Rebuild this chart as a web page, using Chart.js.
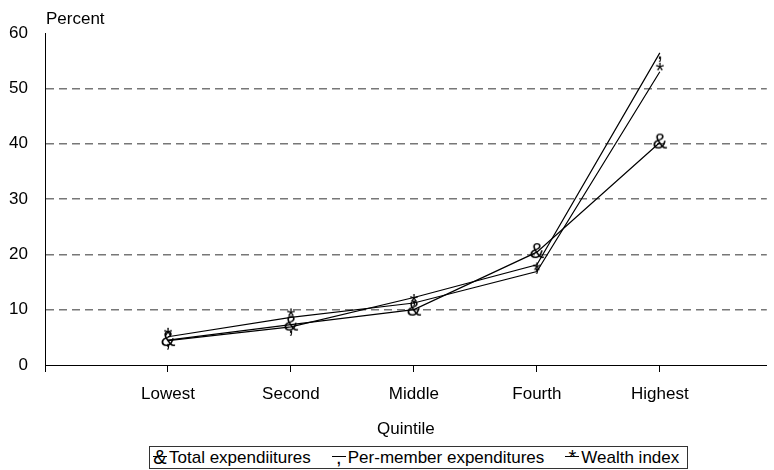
<!DOCTYPE html>
<html>
<head>
<meta charset="utf-8">
<script src="https://cdn.jsdelivr.net/npm/chart.js@4.4.1/dist/chart.umd.min.js"></script>
<style>
  body { margin: 0; background: #fff; overflow: hidden; }
  #wrap { position: relative; width: 774px; height: 470px; }
  #chart { position: absolute; left: 0; top: 0; }
  #legend {
    position: absolute; left: 149px; top: 446px; width: 539px; height: 23px;
    box-sizing: border-box; border: 1px solid #333;
    display: flex; align-items: center; justify-content: flex-start; gap: 20px;
    padding: 0 4px 0 2px;
    font: 17px "Liberation Sans", Arial, sans-serif; color: #000;
  }
  .item { display: flex; align-items: center; white-space: nowrap; }
  .sample { position: relative; display: inline-block; width: 16px; height: 21px; margin-right: 1px; }
  .sample i { position: absolute; left: 1px; right: 1px; top: 9px; height: 1px; background: #000; }
  .sample b { position: absolute; left: 0; right: 0; top: 0; line-height: 21px; text-align: center; font-weight: normal; font-size: 20px; }
</style>
</head>
<body>
<div id="wrap">
  <canvas id="chart" width="774" height="440"></canvas>
  <div id="legend"></div>
</div>
<script>
// quintile categories and values (percent)
var categories = ['Lowest', 'Second', 'Middle', 'Fourth', 'Highest'];
var seriesNames = ['Total expendiitures', 'Per-member expenditures', 'Wealth index'];
var seriesMarkers = ['&', ',', '*'];
var totalExp = [4.5, 7.3, 10.0, 20.4, 40.2];
var perMemberExp = [4.4, 6.9, 12.2, 18.1, 56.4];
var wealthIndex = [5.1, 8.6, 11.2, 16.9, 53.0];
var yTicks = [0, 10, 20, 30, 40, 50, 60];

var FONT = '"Liberation Sans", Arial, sans-serif';

function glyph(ch) {
    var c = document.createElement('canvas');
    c.width = 28; c.height = 30;
    var g = c.getContext('2d');
    g.font = '22px ' + FONT;
    g.textAlign = 'center';
    g.textBaseline = 'middle';
    g.fillStyle = '#000';
    g.fillText(ch, 14, 15);
    return c;
}

function toPoints(values) {
    return values.map(function (v, i) { return {x: i + 1, y: v}; });
}

var allSeries = [totalExp, perMemberExp, wealthIndex];
var datasets = allSeries.map(function (vals, k) {
    return {
        label: seriesNames[k],
        data: toPoints(vals),
        borderColor: '#000',
        borderWidth: 1.2,
        backgroundColor: '#000',
        pointStyle: glyph(seriesMarkers[k]),
        pointRadius: 6,
        tension: 0
    };
});

// html legend
var legend = document.getElementById('legend');
seriesNames.forEach(function (name, k) {
    var item = document.createElement('span');
    item.className = 'item';
    var s = document.createElement('span');
    s.className = 'sample';
    s.appendChild(document.createElement('i'));
    var b = document.createElement('b');
    b.textContent = seriesMarkers[k];
    s.appendChild(b);
    item.appendChild(s);
    item.appendChild(document.createTextNode(name));
    legend.appendChild(item);
});

var yTitle = {
    id: 'yTitle',
    afterDraw: function (chart) {
        var ctx = chart.ctx;
        ctx.save();
        ctx.font = '17px ' + FONT;
        ctx.fillStyle = '#000';
        ctx.textAlign = 'left';
        ctx.textBaseline = 'middle';
        ctx.fillText('Percent', chart.chartArea.left + 1, 19);
        ctx.restore();
    }
};

new Chart(document.getElementById('chart'), {
    type: 'line',
    data: {datasets: datasets},
    options: {
        responsive: false,
        animation: false,
        layout: {padding: {top: 33, left: 0, right: 0, bottom: 0}},
        plugins: {
            legend: {display: false},
            tooltip: {enabled: false}
        },
        scales: {
            x: {
                type: 'linear',
                min: 0,
                max: 5.87,
                afterBuildTicks: function (scale) {
                    scale.ticks = [0, 1, 2, 3, 4, 5].map(function (v) { return {value: v}; });
                },
                afterFit: function (scale) { scale.height = 75; },
                ticks: {
                    color: '#000',
                    font: {family: FONT, size: 17},
                    padding: 12,
                    maxRotation: 0,
                    autoSkip: false,
                    callback: function (v) { return categories[v - 1] || ''; }
                },
                grid: {drawOnChartArea: false, drawTicks: true, tickLength: 7, color: '#000'},
                border: {display: true, color: '#000', width: 1},
                title: {
                    display: true,
                    text: 'Quintile',
                    color: '#000',
                    font: {family: FONT, size: 17},
                    padding: {top: 0, bottom: 0}
                }
            },
            y: {
                min: 0,
                max: 60,
                afterBuildTicks: function (scale) {
                    scale.ticks = yTicks.map(function (v) { return {value: v}; });
                },
                afterFit: function (scale) { scale.width = 45; },
                ticks: {
                    color: '#000',
                    font: {family: FONT, size: 17},
                    padding: 17
                },
                grid: {
                    drawTicks: false,
                    lineWidth: 1.5,
                    color: function (ctx) {
                        var v = ctx.tick && ctx.tick.value;
                        return (v === 0 || v === 60) ? 'rgba(0,0,0,0)' : '#777777';
                    }
                },
                border: {display: true, color: '#000', width: 1, dash: [8, 5]}
            }
        }
    },
    plugins: [yTitle]
});
</script>
</body>
</html>
